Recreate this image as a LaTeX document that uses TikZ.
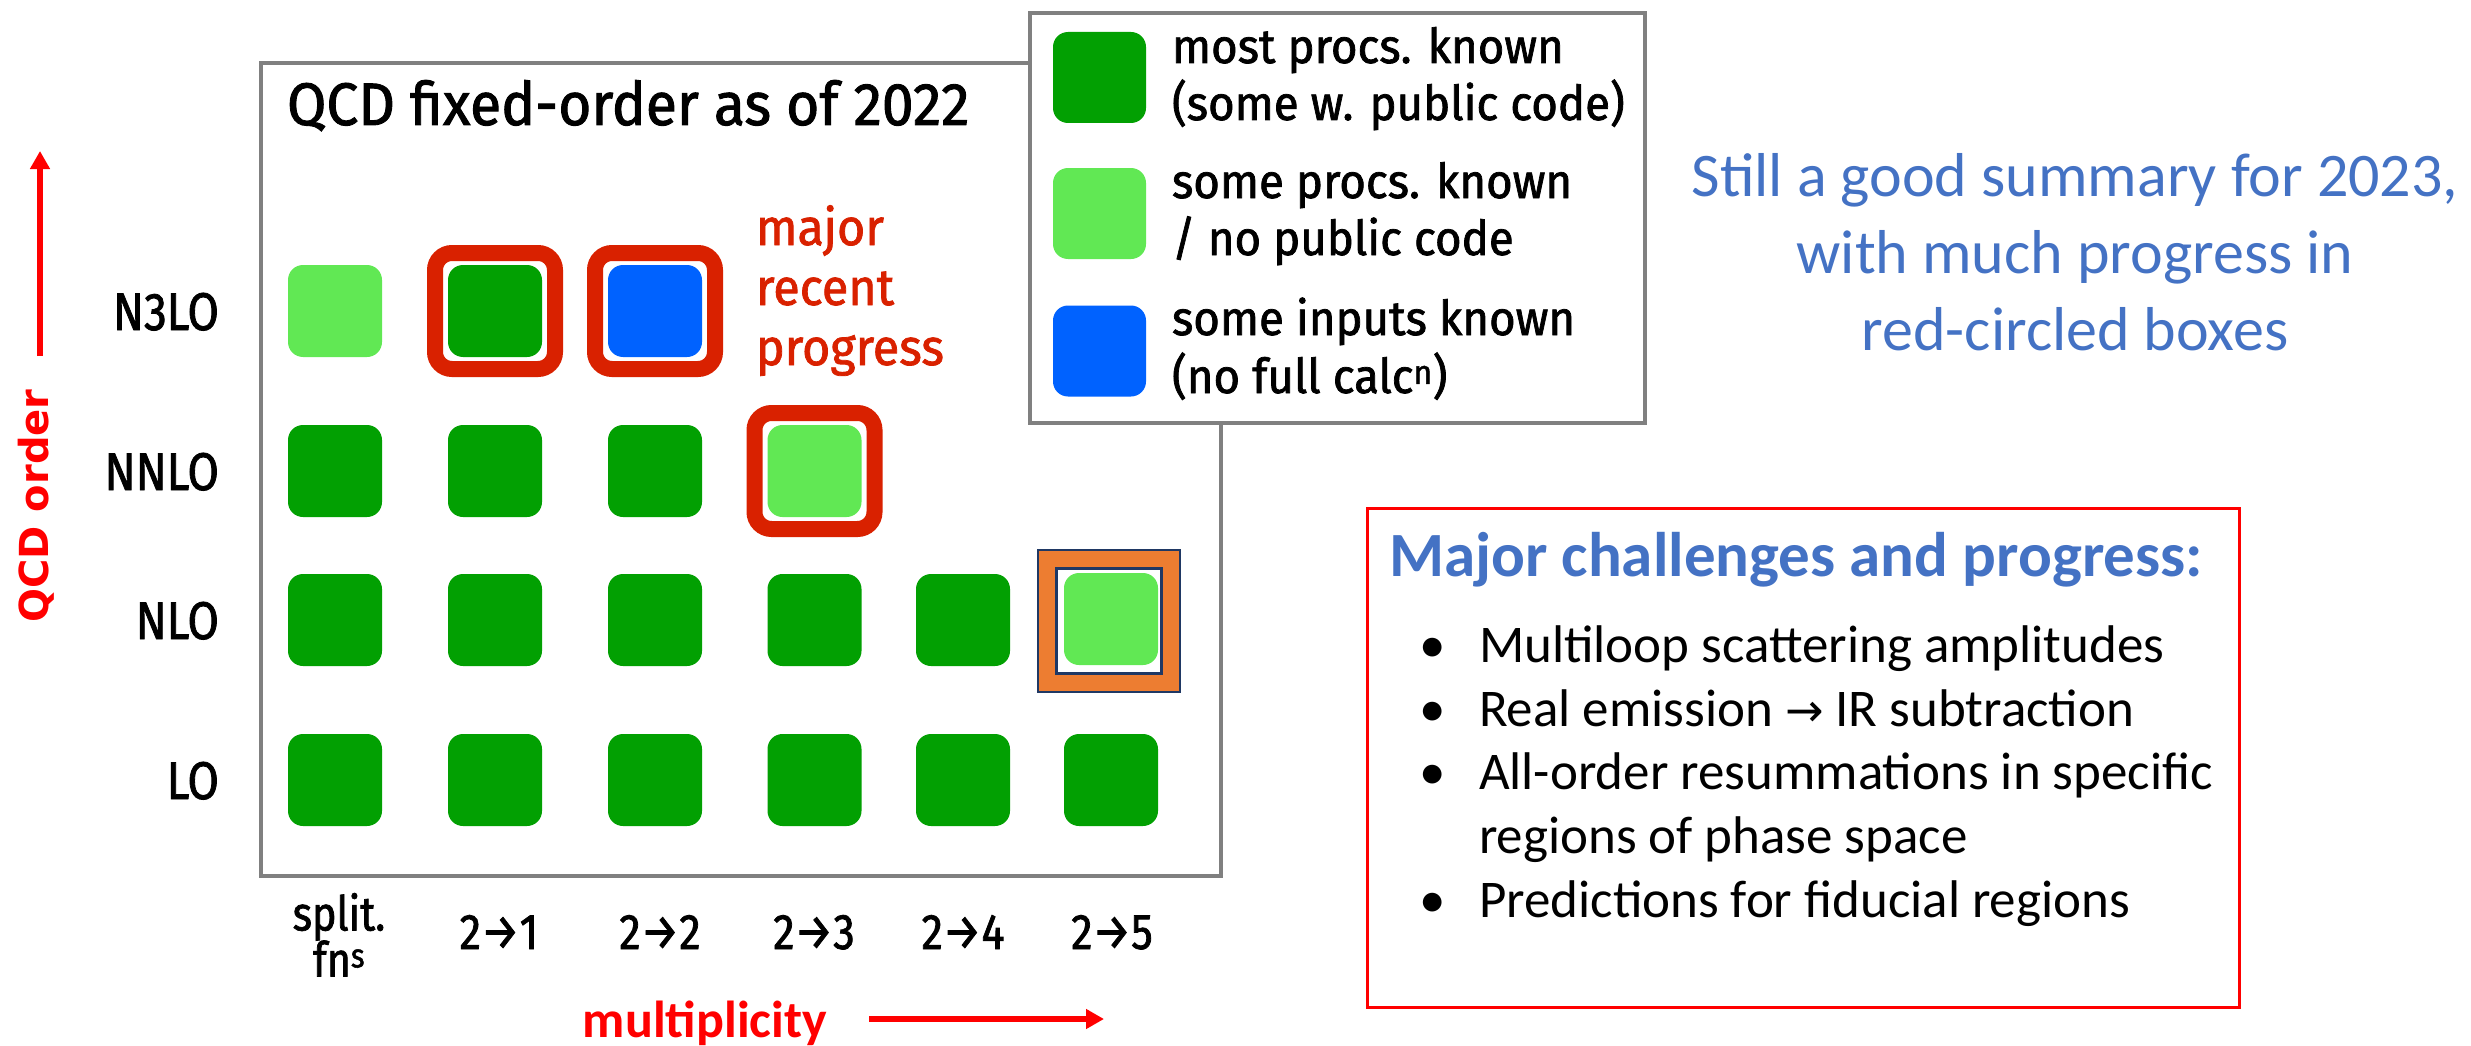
\documentclass[tikz,border=0pt]{standalone}
\usepackage{fontspec}
\setmainfont{Fira Sans}[FakeStretch=0.86,FakeBold=1.5]
\newfontfamily\legfont{Fira Sans}[FakeStretch=0.95,FakeBold=1.5]
\newfontfamily\calfont{Carlito}
\newfontfamily\dvfont{DejaVu Sans}
\usetikzlibrary{arrows.meta}

\definecolor{dkgreen}{RGB}{2,160,2}
\definecolor{ltgreen}{RGB}{97,232,84}
\definecolor{qblue}{RGB}{0,98,255}
\definecolor{ringred}{RGB}{217,33,0}
\definecolor{framegray}{RGB}{128,128,128}
\definecolor{officeblue}{RGB}{68,114,196}
\definecolor{officeorange}{RGB}{237,125,49}
\definecolor{navyline}{RGB}{31,56,100}

\newcommand{\fsz}[1]{\fontsize{#1}{#1}\selectfont}

\begin{document}
\begin{tikzpicture}[x=1pt,y=-1pt,
  every node/.style={inner sep=0pt,outer sep=0pt},
  cell/.style={minimum width=94pt,minimum height=92pt,rounded corners=15pt},
  full/.style={cell,fill=dkgreen},
  part/.style={cell,fill=ltgreen},
  inputs/.style={cell,fill=qblue},
  ring/.style={draw=ringred,line width=16pt,minimum width=120pt,minimum height=116pt,rounded corners=17pt},
  rowlabel/.style={anchor=base east,font=\fsz{53}},
  collabel/.style={anchor=base,font=\fsz{50}},
  legtext/.style={anchor=base west,font=\legfont\fsz{48}},
  note/.style={anchor=base west,font=\legfont\fsz{51},text=ringred},
  summary/.style={anchor=base,font=\calfont\fsz{62},text=officeblue},
  item/.style={anchor=base west,font=\calfont\fsz{53}},
  dot/.style={anchor=base,font=\calfont\fsz{53}},
  axisarrow/.style={draw=red,line width=6.5pt,-{Triangle[length=18pt,width=19pt]}}
]
\useasboundingbox (0,0) rectangle (2471,1046);

% main frame
\node[draw=framegray,line width=4pt,minimum width=960pt,minimum height=813pt] (frame) at (741,469.5) {};
\node[anchor=base west,font=\legfont\fsz{60}] (title) at (287,125) {QCD fixed-order as of 2022};

% red rings around recent progress
\node[ring] (ringA) at (495,311) {};
\node[ring] (ringB) at (655,311) {};
\node[ring] (ringC) at (814.5,471) {};

% orange frame for NLO 2->5
\node[draw=navyline,line width=2pt,fill=officeorange,minimum width=142pt,minimum height=142pt] (orangeout) at (1109,621) {};
\node[draw=navyline,line width=3pt,fill=white,minimum width=105pt,minimum height=105pt] (orangein) at (1109,621) {};

% N3LO row
\node[part]   (n3a) at (335,311) {};
\node[full]   (n3b) at (495,311) {};
\node[inputs] (n3c) at (655,311) {};
% NNLO row
\node[full] (n2a) at (335,471) {};
\node[full] (n2b) at (495,471) {};
\node[full] (n2c) at (655,471) {};
\node[part] (n2d) at (814.5,471) {};
% NLO row
\node[full] (n1a) at (335,620) {};
\node[full] (n1b) at (495,620) {};
\node[full] (n1c) at (655,620) {};
\node[full] (n1d) at (814.5,620) {};
\node[full] (n1e) at (963,620) {};
\node[part] (n1f) at (1111,619) {};
% LO row
\node[full] (n0a) at (335,780) {};
\node[full] (n0b) at (495,780) {};
\node[full] (n0c) at (655,780) {};
\node[full] (n0d) at (814.5,780) {};
\node[full] (n0e) at (963,780) {};
\node[full] (n0f) at (1111,780) {};

% row labels
\node[rowlabel] (lN3) at (219,330) {N3LO};
\node[rowlabel] (lN2) at (219,490) {NNLO};
\node[rowlabel] (lN1) at (219,639) {NLO};
\node[rowlabel] (lN0) at (219,799) {LO};

% column labels
\node[anchor=north,align=center,font=\fsz{48}] (cs) at (339,893) {split.\\[-2pt]fn\textsuperscript{s}};
\node[collabel] (c1) at (499,949) {2→1};
\node[collabel] (c2) at (660,949) {2→2};
\node[collabel] (c3) at (814,949) {2→3};
\node[collabel] (c4) at (963,949) {2→4};
\node[collabel] (c5) at (1112,949) {2→5};

% note
\node[note] (m1) at (756,245) {major};
\node[note] (m2) at (756,305) {recent};
\node[note] (m3) at (756,365) {progress};

% legend
\node[draw=framegray,line width=4pt,fill=white,minimum width=615pt,minimum height=410pt] (legend) at (1337.5,218) {};
\node[full,minimum width=93pt,minimum height=91pt] (k1) at (1099.5,77.5) {};
\node[part,minimum width=93pt,minimum height=91pt] (k2) at (1099.5,213.5) {};
\node[inputs,minimum width=93pt,minimum height=91pt] (k3) at (1099.5,351) {};
\node[legtext] (t1a) at (1172,63) {most procs. known};
\node[legtext] (t1b) at (1172,120) {(some w. public code)};
\node[legtext] (t2a) at (1172,198) {some procs. known};
\node[legtext] (t2b) at (1172,255) {/ no public code};
\node[legtext] (t3a) at (1172,335) {some inputs known};
\node[legtext] (t3b) at (1172,393) {(no full calc\textsuperscript{n})};

% axes
\coordinate (vtail) at (40,356);
\coordinate (vtip) at (40,151);
\draw[axisarrow] (vtail) -- (vtip);
\node[rotate=90,font=\dvfont\bfseries\fsz{40},text=red] (yaxis) at (36,506) {QCD order};
\coordinate (htail) at (869,1019);
\coordinate (htip) at (1104,1019);
\draw[axisarrow] (htail) -- (htip);
\node[anchor=base,font=\calfont\bfseries\fsz{52},text=red] (xaxis) at (705,1037) {multiplicity};

% summary text
\node[summary] (s1) at (2075,196) {Still a good summary for 2023,};
\node[summary] (s2) at (2075,273) {with much progress in};
\node[summary] (s3) at (2075,350) {red-circled boxes};

% challenges box
\node[draw=red,line width=3pt,minimum width=872pt,minimum height=499pt] (chal) at (1803.5,758) {};
\node[anchor=base west,font=\calfont\bfseries\fsz{63},text=officeblue] (chtitle) at (1389,576) {Major challenges and progress:};
\node[dot] (b1) at (1433,662) {•};
\node[item] (i1) at (1479,662) {Multiloop scattering amplitudes};
\node[dot] (b2) at (1433,726) {•};
\node[item] (i2) at (1479,726) {Real emission {\dvfont\fsz{46}→} IR subtraction};
\node[dot] (b3) at (1433,789) {•};
\node[item] (i3) at (1479,789) {All-order resummations in specific};
\node[item] (i3b) at (1479,853) {regions of phase space};
\node[dot] (b4) at (1433,917) {•};
\node[item] (i4) at (1479,917) {Predictions for fiducial regions};
\end{tikzpicture}
\end{document}
